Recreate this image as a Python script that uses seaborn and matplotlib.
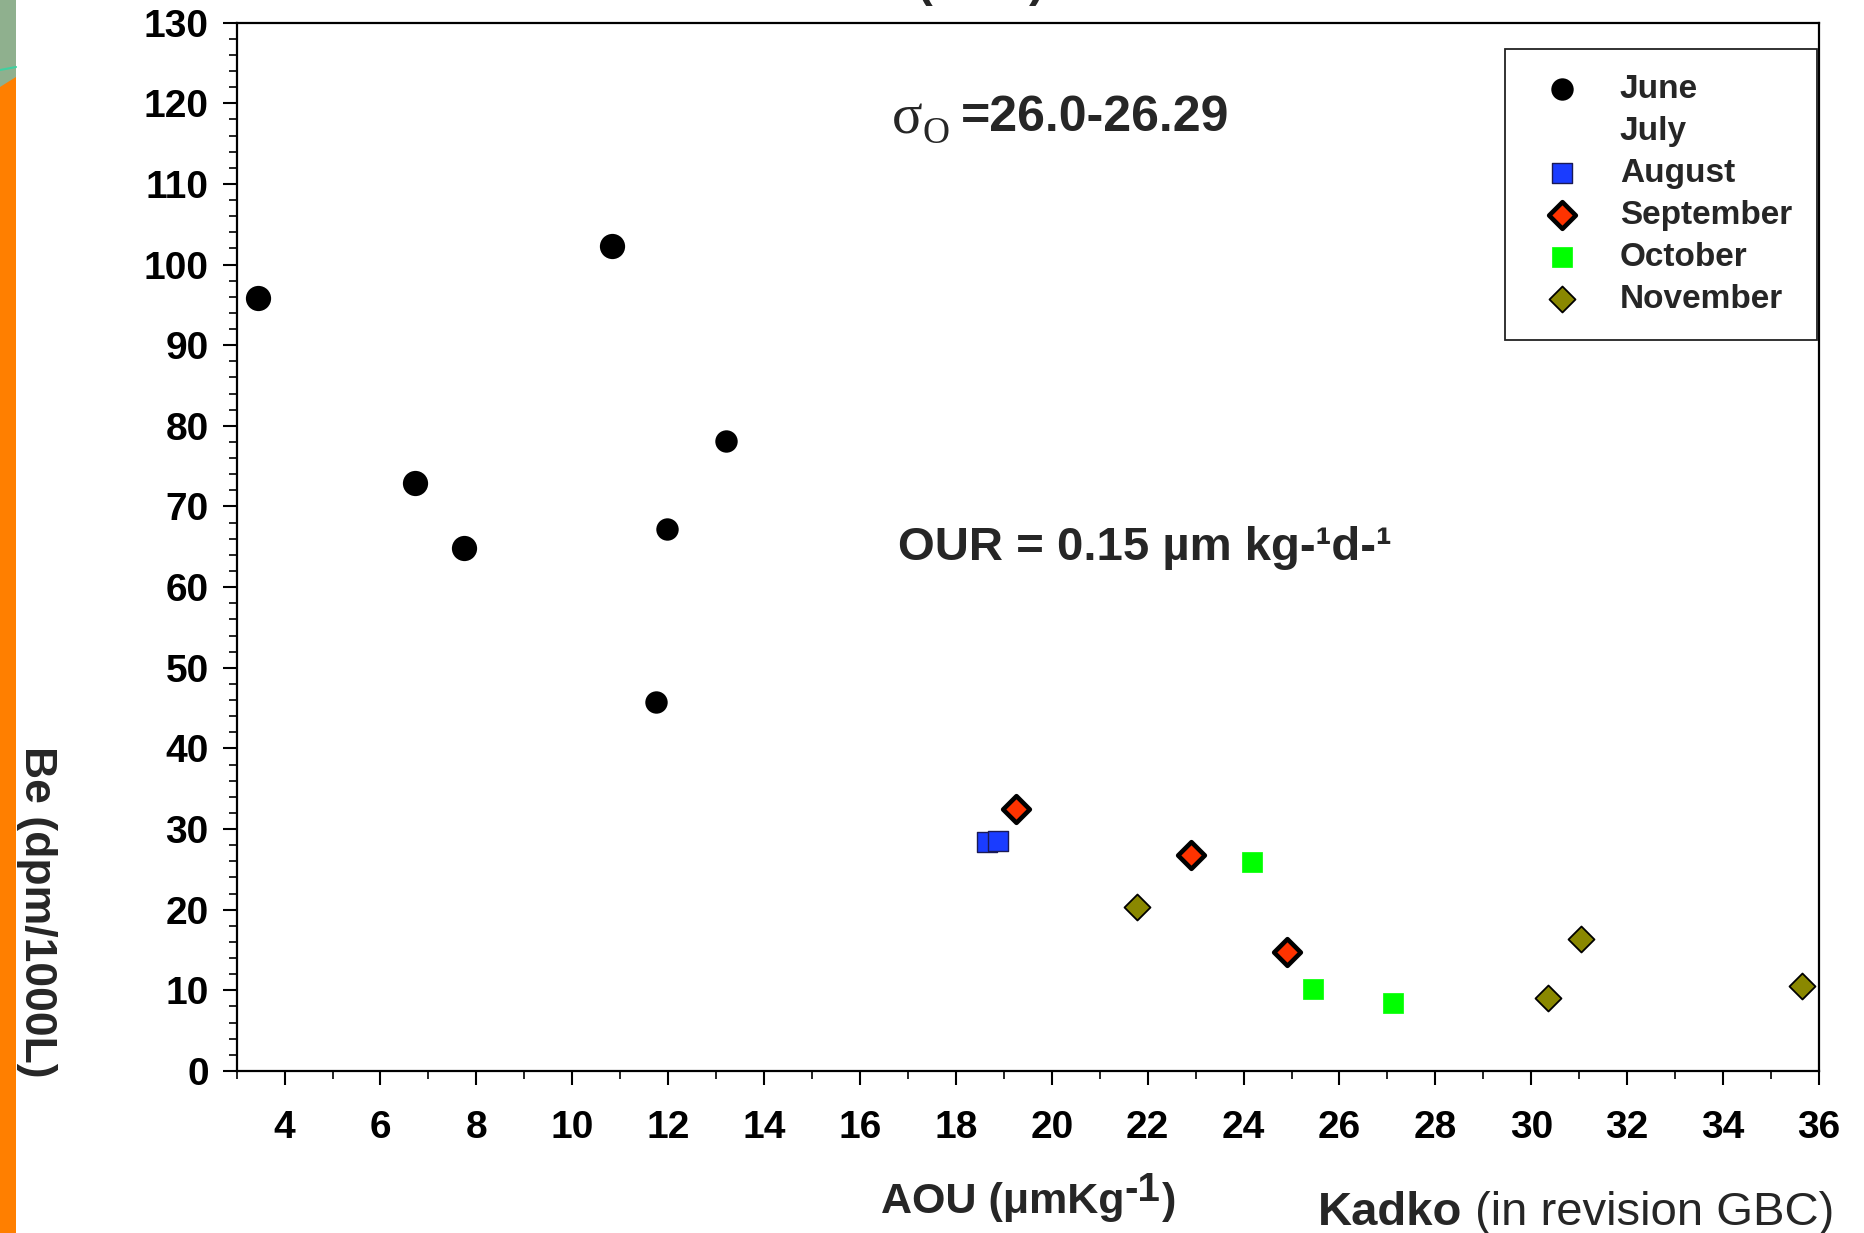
import matplotlib
matplotlib.use("Agg")
import matplotlib.pyplot as plt
import seaborn as sns
import pandas as pd
from matplotlib.lines import Line2D
from matplotlib.patches import Rectangle, Polygon
from matplotlib.ticker import MultipleLocator

# ---------------- data ----------------
june_big_x = [3.45, 6.73, 7.75, 10.83]
june_big_y = [95.9, 72.9, 64.8, 102.3]
june_small_x = [11.75, 11.97, 13.21]
june_small_y = [45.8, 67.2, 78.1]
aug_x = [18.64, 18.87]
aug_y = [28.4, 28.5]
sep_x = [19.25, 22.90, 24.90]
sep_y = [32.5, 26.8, 14.7]
oct_x = [24.18, 25.44, 27.11]
oct_y = [25.9, 10.2, 8.4]
nov_x = [21.78, 30.34, 31.04, 35.65]
nov_y = [20.3, 9.1, 16.4, 10.6]
legend_labels = ["June", "July", "August", "September", "October", "November"]
x_ticks = list(range(4, 37, 2))
y_ticks = list(range(0, 131, 10))

sns.set_style("white")
plt.rcParams["font.family"] = ["Liberation Sans", "DejaVu Sans"]
plt.rcParams["font.weight"] = "bold"

W, H = 1864, 1233
fig = plt.figure(figsize=(W / 100, H / 100), dpi=100)
fig.patch.set_facecolor("white")
ax = fig.add_axes([236.6 / W, (H - 1071) / H, (1819 - 236.6) / W, (1071 - 22.6) / H])

def scat(x, y, **kw):
    df = pd.DataFrame({"x": x, "y": y})
    sns.scatterplot(data=df, x="x", y="y", ax=ax, legend=False, **kw)
    return ax.collections[-1]

h_june_big = scat(june_big_x, june_big_y, marker="o", s=330, color="black", linewidth=0, zorder=3)
h_june = scat(june_small_x, june_small_y, marker="o", s=260, color="black", linewidth=0, zorder=3)
h_aug = scat(aug_x, aug_y, marker="s", s=215, color="#1a3cff", edgecolor="#1a1a55", linewidth=1.0, zorder=3)
h_sep = scat(sep_x, sep_y, marker="D", s=185, color="#ff3300", edgecolor="black", linewidth=3.3, zorder=4)
h_oct = scat(oct_x, oct_y, marker="s", s=215, color="#00ff00", edgecolor="#00ff00", linewidth=0.5, zorder=3)
h_nov = scat(nov_x, nov_y, marker="D", s=175, color="#8a8800", edgecolor="black", linewidth=1.3, zorder=3)

ax.set_xlim(3, 36)
ax.set_ylim(0, 130)
ax.set_xticks(x_ticks)
ax.set_yticks(y_ticks)
ax.set_xticklabels([str(v) for v in x_ticks])
ax.set_yticklabels([str(v) for v in y_ticks])
ax.xaxis.set_minor_locator(MultipleLocator(1))
ax.yaxis.set_minor_locator(MultipleLocator(2))
ax.set_xlim(3, 36)
ax.set_ylim(0, 130)

for sp in ax.spines.values():
    sp.set_visible(True)
    sp.set_color("black")
    sp.set_linewidth(1.6)

ax.tick_params(axis="both", which="both", bottom=True, left=True, top=False, right=False)
ax.tick_params(axis="both", which="major", direction="out", length=10, width=1.5,
               color="black", labelsize=28, labelcolor="black")
ax.tick_params(axis="both", which="minor", direction="out", length=5.8, width=1.2, color="black")
ax.tick_params(axis="x", which="major", pad=18)
ax.tick_params(axis="y", which="major", pad=10)
for lab in ax.get_xticklabels() + ax.get_yticklabels():
    lab.set_fontweight("bold")
ax.set_xlabel("")
ax.set_ylabel("")

# ---------------- legend ----------------
july_handle = Line2D([], [], linestyle="none", marker=None)
leg = ax.legend([h_june, july_handle, h_aug, h_sep, h_oct, h_nov], legend_labels,
                loc="upper right", bbox_to_anchor=((1817 - 236.6) / 1582.4, (1071 - 49) / 1048.4),
                borderaxespad=0, frameon=True, fancybox=False, framealpha=1,
                edgecolor="#222222", scatterpoints=1,
                prop={"weight": "bold", "size": 24},
                borderpad=0.75, handlelength=1.89, handletextpad=0.79, labelspacing=0.33)
leg.get_frame().set_linewidth(1.3)

# ---------------- axis labels ----------------
fig.text(36 / W, 1 - 912 / H, "Be (dpm/1000L)", rotation=270, ha="center", va="center",
         fontsize=32, fontweight="bold")

t_aou = fig.text(881 / W, 1 - 1212.8 / H, "AOU (\u03bcmKg", ha="left", va="baseline",
                 fontsize=31, fontweight="bold")
t_sup = ax.annotate("-1", xy=(1, 0), xycoords=t_aou, xytext=(0, 9), textcoords="offset points",
                    ha="left", va="bottom", fontsize=29, fontweight="bold", annotation_clip=False)
t_close = ax.annotate(")", xy=(1, 0), xycoords=t_sup, xytext=(1, -9), textcoords="offset points",
                      ha="left", va="bottom", fontsize=31, fontweight="bold", annotation_clip=False)

# clipped title remnants at the very top (as in the reference)
fig.text(917 / W, 1 + 4 / H, "(", ha="left", va="baseline", fontsize=34, fontweight="bold")
fig.text(1045 / W, 1 + 4 / H, ")", ha="right", va="baseline", fontsize=34, fontweight="bold")

# ---------------- annotations in the plot ----------------
fig.text(892 / W, 1 - 133 / H, "\u03c3", ha="left", va="baseline", fontsize=41,
         fontweight="normal", family=["Liberation Serif", "DejaVu Serif"])
fig.text(923 / W, 1 - 143 / H, "O", ha="left", va="baseline", fontsize=27,
         fontweight="normal", family=["Liberation Serif", "DejaVu Serif"])
fig.text(961 / W, 1 - 131 / H, "=26.0-26.29", ha="left", va="baseline", fontsize=36,
         fontweight="bold")

fig.text(897.7 / W, 1 - 560 / H, "OUR = 0.15 \u00b5m kg-\u00b9d-\u00b9", ha="left", va="baseline",
         fontsize=34, fontweight="bold")

t_k = fig.text(1317.4 / W, 1 - 1224.7 / H, "Kadko", ha="left", va="baseline",
               fontsize=34, fontweight="bold")
ax.annotate(" (in revision GBC)", xy=(1, 0), xycoords=t_k, ha="left", va="bottom",
            fontsize=34, fontweight="normal", annotation_clip=False)

# ---------------- left-edge decoration ----------------
fig.patches.append(Rectangle((0, 1 - 90 / H), 16 / W, 90 / H, transform=fig.transFigure,
                             facecolor="#8fb08e", edgecolor="none", zorder=0))
fig.patches.append(Polygon([(0, 1 - 87 / H), (16 / W, 1 - 77 / H), (16 / W, 0), (0, 0)],
                           closed=True, transform=fig.transFigure,
                           facecolor="#ff7f00", edgecolor="none", zorder=1))
fig.lines.append(Line2D([0, 16 / W], [1 - 70 / H, 1 - 67 / H], transform=fig.transFigure,
                        color="#3fd0a0", linewidth=1.5, zorder=2))

fig.savefig("out.png", dpi=100, facecolor="white")
